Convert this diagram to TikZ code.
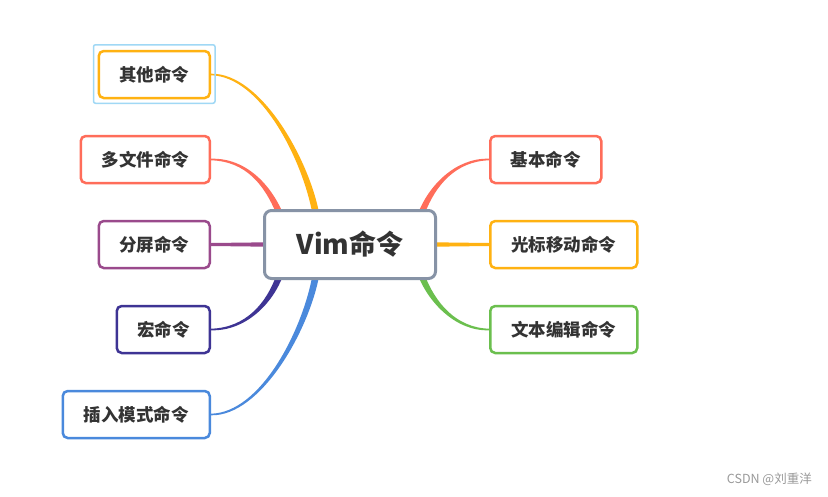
\documentclass[tikz,border=0pt]{standalone}
\usepackage{fontspec}
\usetikzlibrary{calc}
\newfontfamily\cjk{Noto Sans CJK SC}
\definecolor{cOr}{HTML}{FFB212}
\definecolor{cRd}{HTML}{FF6D5A}
\definecolor{cPu}{HTML}{9A4A8C}
\definecolor{cDp}{HTML}{3E3494}
\definecolor{cBl}{HTML}{4A89DC}
\definecolor{cGn}{HTML}{6BBF4E}
\definecolor{cGy}{HTML}{8793A6}
\definecolor{cTx}{HTML}{333333}
\definecolor{cHl}{HTML}{A0D8F5}
\definecolor{cWm}{HTML}{999999}
\pgfdeclarelayer{back}
\pgfdeclarelayer{bg}
\pgfsetlayers{back,bg,main}
\newcommand\taper[6]{%
\fill[#1] ($#3+(0,-0.8)$) .. controls ($#4+(0,-1.8)$) and ($#5+({(#2)*3.4},0)$) .. ($#6+({(#2)*3.4},0)$) -- ($#6+({-(#2)*3.4},0)$) .. controls ($#5+({-(#2)*3.4},0)$) and ($#4+(0,1.8)$) .. ($#3+(0,0.8)$) -- cycle;}
\tikzset{
  leaf/.style={draw=#1, line width=2.5pt, rounded corners=5pt, fill=white,
    minimum height=47pt, inner sep=0pt, text=cTx,
    font=\cjk\bfseries\fontsize{17.5}{20}\selectfont},
  root/.style={draw=cGy, line width=3pt, rounded corners=7pt, fill=white,
    minimum width=171pt, minimum height=68pt, inner sep=0pt, text=cTx,
    font=\cjk\bfseries\fontsize{27}{32}\selectfont},
  hl/.style={draw=cHl, line width=1.5pt, rounded corners=2pt},
  wm/.style={text=cWm, inner sep=0pt, font=\cjk\fontsize{12.5}{15}\selectfont}
}
\begin{document}
\begin{tikzpicture}[x=1pt,y=-1pt]
\begin{pgfonlayer}{back}
\useasboundingbox[fill=white] (0,0) rectangle (828,496);
\end{pgfonlayer}
% root
\node[root] (c) at (350,244.5) {Vim命令};
% left leaves
\node[leaf=cOr, minimum width=111pt, anchor=east] (o) at (211,74.5) {其他命令};
\node[leaf=cRd, minimum width=129pt, anchor=east] (m) at (211,159.5) {多文件命令};
\node[leaf=cPu, minimum width=111pt, anchor=east] (f) at (211,244.5) {分屏命令};
\node[leaf=cDp, minimum width=93pt, anchor=east] (h) at (211,329.5) {宏命令};
\node[leaf=cBl, minimum width=147pt, anchor=east] (i) at (211,414.5) {插入模式命令};
% right leaves
\node[leaf=cRd, minimum width=111pt, anchor=west] (j) at (489,159.5) {基本命令};
\node[leaf=cOr, minimum width=147pt, anchor=west] (g) at (489,244.5) {光标移动命令};
\node[leaf=cGn, minimum width=147pt, anchor=west] (w) at (489,329.5) {文本编辑命令};
% selection highlight
\draw[hl] ($(o.north west)+(-4,-5)$) rectangle ($(o.south east)+(4,4)$);
% watermark
\node[wm, anchor=east] (wmk) at (812,479) {CSDN @刘重洋};
% connectors
\begin{pgfonlayer}{bg}
\taper{cOr}{1}{(o.east)}{(o.east)+(50,0)}{(c.center)+(-44,-84.5)}{(c.center)+(-34,-30)}
\taper{cRd}{1}{(m.east)}{(m.east)+(35,0)}{(c.center)+(-82,-59.5)}{(c.center)+(-70,-30)}
\fill[cPu] ($(f.east)+(0,-1.5)$) -- ($(c.west)+(4,-2.2)$) -- ($(c.west)+(4,2.2)$) -- ($(f.east)+(0,1.5)$) -- cycle;
\taper{cDp}{-1}{(h.east)}{(h.east)+(35,0)}{(c.center)+(-80,58.5)}{(c.center)+(-70,30)}
\taper{cBl}{-1}{(i.east)}{(i.east)+(50,0)}{(c.center)+(-44,85.5)}{(c.center)+(-34,30)}
\taper{cRd}{-1}{(j.west)}{(j.west)+(-33,0)}{(c.center)+(82,-59.5)}{(c.center)+(71,-30)}
\fill[cOr] ($(c.east)+(-4,-2.2)$) -- ($(g.west)+(0,-1.5)$) -- ($(g.west)+(0,1.5)$) -- ($(c.east)+(-4,2.2)$) -- cycle;
\taper{cGn}{1}{(w.west)}{(w.west)+(-33,0)}{(c.center)+(82,58.5)}{(c.center)+(71,30)}
\end{pgfonlayer}
\end{tikzpicture}
\end{document}
